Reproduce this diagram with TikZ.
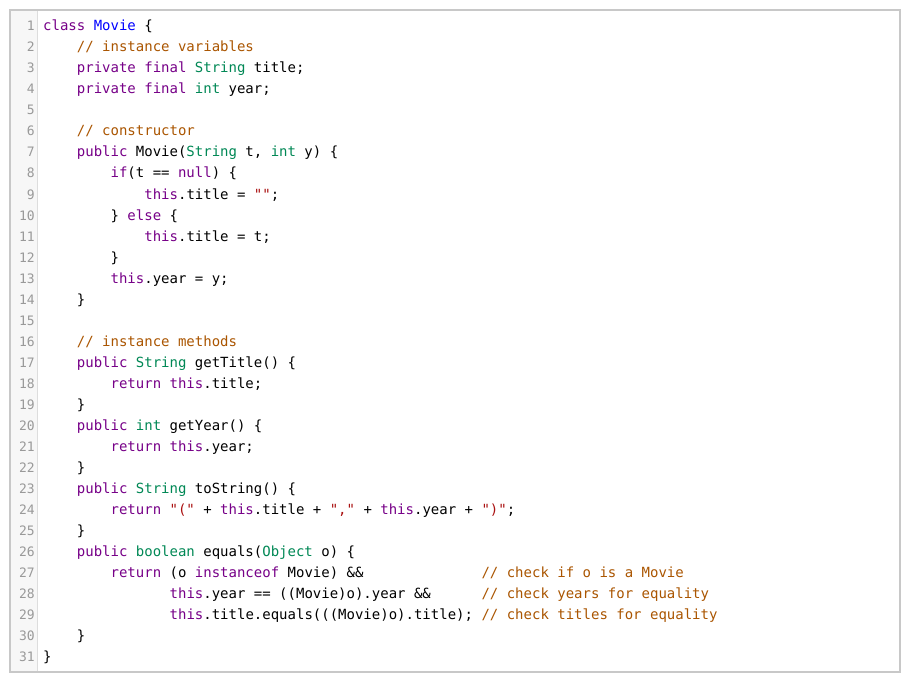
\documentclass[tikz,border=0pt]{standalone}
\usepackage{fontspec}
\setmonofont{DejaVu Sans Mono}
\definecolor{kwc}{HTML}{770088}
\definecolor{tyc}{HTML}{008855}
\definecolor{cmc}{HTML}{AA5500}
\definecolor{stc}{HTML}{AA1111}
\definecolor{dfc}{HTML}{0000FF}
\definecolor{gnc}{HTML}{999999}
\definecolor{frc}{HTML}{C8C8C8}
\definecolor{gbg}{HTML}{F7F7F7}
\definecolor{gbd}{HTML}{DDDDDD}
\newcommand\kw[1]{\textcolor{kwc}{#1}}
\newcommand\ty[1]{\textcolor{tyc}{#1}}
\newcommand\cm[1]{\textcolor{cmc}{#1}}
\newcommand\st[1]{\textcolor{stc}{#1}}
\newcommand\df[1]{\textcolor{dfc}{#1}}
\newcommand\SP[1]{\hspace*{#1\dimexpr 8.43bp\relax}}
\begin{document}
\begin{tikzpicture}[x=1bp,y=-1bp,
  codeline/.style={anchor=base west,inner sep=0pt,font=\ttfamily\fontsize{14bp}{16bp}\selectfont},
  numline/.style={anchor=base east,inner sep=0pt,text=gnc,font=\ttfamily\fontsize{13bp}{16bp}\selectfont}]
\useasboundingbox (0,0) rectangle (914,686);
\fill[white] (0,0) rectangle (914,686);
\fill[gbg] (11,11) rectangle (37,671);
\draw[gbd] (37,11) -- (37,671);
\draw[frc,line width=2bp] (10,10) rectangle (900,672);
\foreach \i in {1,...,31} {
  \node[numline] (n\i) at (35,{31+21*(\i-1)}) {\i};
}
\def\L#1#2{\node[codeline] (c#1) at (43,{31+21*(#1-1)}) {\strut #2};}
\L{1}{\kw{class} \df{Movie} \{}
\L{2}{\SP{4}\cm{// instance variables}}
\L{3}{\SP{4}\kw{private} \kw{final} \ty{String} title;}
\L{4}{\SP{4}\kw{private} \kw{final} \ty{int} year;}
\L{6}{\SP{4}\cm{// constructor}}
\L{7}{\SP{4}\kw{public} Movie(\ty{String} t, \ty{int} y) \{}
\L{8}{\SP{8}\kw{if}(t == \kw{null}) \{}
\L{9}{\SP{12}\kw{this}.title = \st{""};}
\L{10}{\SP{8}\} \kw{else} \{}
\L{11}{\SP{12}\kw{this}.title = t;}
\L{12}{\SP{8}\}}
\L{13}{\SP{8}\kw{this}.year = y;}
\L{14}{\SP{4}\}}
\L{16}{\SP{4}\cm{// instance methods}}
\L{17}{\SP{4}\kw{public} \ty{String} getTitle() \{}
\L{18}{\SP{8}\kw{return} \kw{this}.title;}
\L{19}{\SP{4}\}}
\L{20}{\SP{4}\kw{public} \ty{int} getYear() \{}
\L{21}{\SP{8}\kw{return} \kw{this}.year;}
\L{22}{\SP{4}\}}
\L{23}{\SP{4}\kw{public} \ty{String} toString() \{}
\L{24}{\SP{8}\kw{return} \st{"("} + \kw{this}.title + \st{","} + \kw{this}.year + \st{")"};}
\L{25}{\SP{4}\}}
\L{26}{\SP{4}\kw{public} \ty{boolean} equals(\ty{Object} o) \{}
\L{27}{\SP{8}\kw{return} (o \kw{instanceof} Movie) \&\&\SP{14}\cm{// check if o is a Movie}}
\L{28}{\SP{15}\kw{this}.year == ((Movie)o).year \&\&\SP{6}\cm{// check years for equality}}
\L{29}{\SP{15}\kw{this}.title.equals(((Movie)o).title);\SP{1}\cm{// check titles for equality}}
\L{30}{\SP{4}\}}
\L{31}{\}}
\end{tikzpicture}
\end{document}
